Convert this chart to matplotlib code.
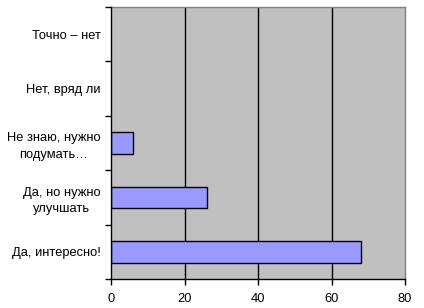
import matplotlib
matplotlib.use("Agg")
import matplotlib.pyplot as plt
import numpy as np

categories = ["Точно – нет", "Нет, вряд ли", "Не знаю, нужно\nподумать…",
              "Да, но нужно\nулучшать", "Да, интересно!"]
values = [0, 0, 6, 26, 68]
xticks = [0, 20, 40, 60, 80]

plt.rcParams['font.family'] = ['Liberation Sans', 'DejaVu Sans']
fig = plt.figure(figsize=(4.24, 3.08), dpi=100)
ax = fig.add_axes([111/424, 1-279/308, (405-111)/424, (279-7)/308])
ax.set_facecolor('#C0C0C0')

n = len(categories)
ypos = np.arange(n)[::-1]  # first category at top
ax.barh(ypos, values, height=0.4, color='#9999FF', edgecolor='black',
        linewidth=[1 if v > 0 else 0 for v in values], zorder=3)
ax.set_xlim(0, 80)
ax.set_ylim(-0.5, n - 0.5)
ax.set_xticks(xticks)
ax.set_xticklabels([str(t) for t in xticks], fontsize=9.3)
for t in xticks[1:-1]:
    ax.axvline(t, color='black', linewidth=1, zorder=2)

ax.set_yticks(ypos)
ax.set_yticklabels(categories, fontsize=9.3, multialignment='center', linespacing=1.45)
ax.set_yticks(np.arange(-0.5, n, 1), minor=True)
ax.tick_params(axis='y', which='major', length=0, pad=7.5)
ax.tick_params(axis='y', which='minor', length=4, direction='out', width=1)
ax.tick_params(axis='x', length=4, direction='out', width=1, pad=6)

for s in ['left', 'bottom']:
    ax.spines[s].set_color('black')
    ax.spines[s].set_linewidth(1)
    ax.spines[s].set_zorder(4)
for s in ['top', 'right']:
    ax.spines[s].set_color('#808080')
    ax.spines[s].set_linewidth(1)

fig.savefig('out.png', dpi=100)
